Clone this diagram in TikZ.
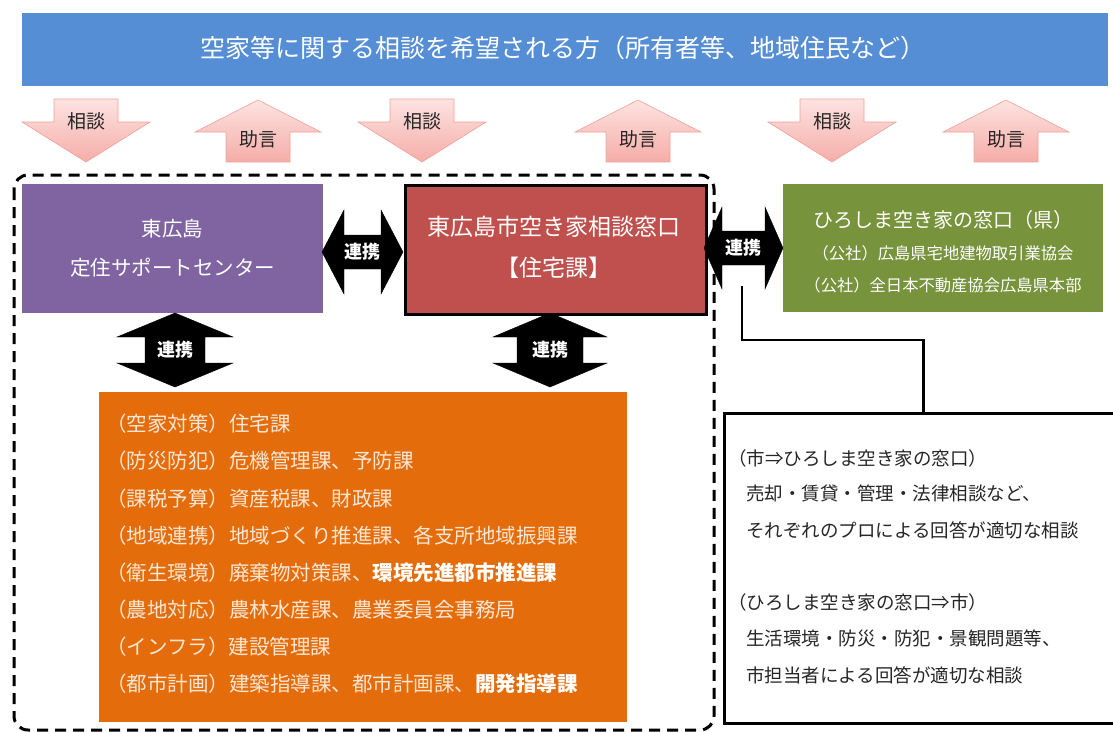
\documentclass[tikz,border=0pt]{standalone}
\usepackage{fontspec}
\setmainfont{Noto Sans CJK JP}
\usetikzlibrary{calc}
\definecolor{topblue}{HTML}{558ED5}
\definecolor{purp}{HTML}{8064A2}
\definecolor{redbox}{HTML}{C0504D}
\definecolor{grn}{HTML}{77933C}
\definecolor{org}{HTML}{E46C0A}
\definecolor{orgtext}{HTML}{FCE6D4}
\definecolor{pinkA}{HTML}{FDE3E1}
\definecolor{pinkB}{HTML}{F5ADA8}
\definecolor{pinkE}{HTML}{EFA29C}
\definecolor{dtext}{HTML}{262626}
\tikzset{
  pinkarrow/.style={top color=pinkA, bottom color=pinkB, draw=pinkE, line width=0.6pt},
  blackarrow/.style={fill=black, draw=black, line width=0.4pt, line join=miter},
  alabel/.style={inner sep=0pt, text=dtext, font=\fontsize{19}{19}\selectfont},
  llabel/.style={inner sep=0pt, text=white, font=\fontsize{18}{18}\selectfont\bfseries},
  boxnode/.style={inner sep=0pt, anchor=north west},
  wtext/.style={inner sep=0pt, text=white},
  otext/.style={inner sep=0pt, anchor=west, text=orgtext, font=\fontsize{20.5}{20.5}\selectfont},
  ptext/.style={inner sep=0pt, anchor=west, text=dtext, font=\fontsize{18.5}{18.5}\selectfont},
  downarrow/.pic={\path[pinkarrow] (-32,0) -- (32,0) -- (32,23) -- (64,23) -- (0,63) -- (-64,23) -- (-32,23) -- cycle;},
  uparrow/.pic={\path[pinkarrow] (0,0) -- (63,32) -- (32,32) -- (32,62) -- (-32,62) -- (-32,32) -- (-63,32) -- cycle;}
}
\begin{document}
\begin{tikzpicture}[x=1pt,y=-1pt]
\clip (0,0) rectangle (1113,731);
\fill[white] (0,0) rectangle (1113,731);

% title bar
\node[boxnode, fill=topblue, minimum width=1086pt, minimum height=73pt] (title) at (22,13) {};
\node[wtext, font=\fontsize{25}{25}\selectfont] (titletext) at (563,48) {空家等に関する相談を希望される方（所有者等、地域住民など）};

% pink arrows
\pic at (86,99) {downarrow};
\node[alabel] (s1) at (86,121) {相談};
\pic at (258,100) {uparrow};
\node[alabel] (j1) at (258,139) {助言};
\pic at (422,99) {downarrow};
\node[alabel] (s2) at (422,121) {相談};
\pic at (638,100) {uparrow};
\node[alabel] (j2) at (638,139) {助言};
\pic at (832,99) {downarrow};
\node[alabel] (s3) at (832,121) {相談};
\pic at (1006,100) {uparrow};
\node[alabel] (j3) at (1006,139) {助言};

% dashed frame
\draw[line width=3pt, dash pattern=on 11pt off 7pt, rounded corners=14pt] (14,175) rectangle (714,730);

% boxes
\node[boxnode, fill=purp, minimum width=301pt, minimum height=129pt] (center) at (22,184) {};
\node[wtext, font=\fontsize{20.5}{20.5}\selectfont] (c1) at (172.5,229) {東広島};
\node[wtext, font=\fontsize{20.5}{20.5}\selectfont] (c2) at (172.5,268) {定住サポートセンター};

\node[boxnode, fill=redbox, draw=black, line width=2.6pt, minimum width=301pt, minimum height=129pt] (city) at (404,184) {};
\node[wtext, font=\fontsize{23}{23}\selectfont] (r1) at (554,227) {東広島市空き家相談窓口};
\node[wtext, font=\fontsize{23}{23}\selectfont] (r2) at (554,268) {【住宅課】};

\node[boxnode, fill=grn, minimum width=320pt, minimum height=128pt] (pref) at (783,184) {};
\node[wtext, font=\fontsize{20}{20}\selectfont] (g1) at (943,220) {ひろしま空き家の窓口（県）};
\node[wtext, font=\fontsize{16.3}{16.3}\selectfont] (g2) at (943,253) {（公社）広島県宅地建物取引業協会};
\node[wtext, font=\fontsize{16.3}{16.3}\selectfont] (g3) at (943,285) {（公社）全日本不動産協会広島県本部};

\node[boxnode, fill=org, minimum width=528pt, minimum height=330pt] (depts) at (99,392) {};
\node[otext] (o1) at (106,424) {（空家対策）住宅課};
\node[otext] (o2) at (106,461.1) {（防災防犯）危機管理課、予防課};
\node[otext] (o3) at (106,498.3) {（課税予算）資産税課、財政課};
\node[otext] (o4) at (106,535.4) {（地域連携）地域づくり推進課、各支所地域振興課};
\node[otext] (o5) at (106,572.6) {（衛生環境）廃棄物対策課、\textcolor{white}{\bfseries 環境先進都市推進課}};
\node[otext] (o6) at (106,609.7) {（農地対応）農林水産課、農業委員会事務局};
\node[otext] (o7) at (106,646.9) {（インフラ）建設管理課};
\node[otext] (o8) at (106,684) {（都市計画）建築指導課、都市計画課、\textcolor{white}{\bfseries 開発指導課}};

\node[boxnode, fill=white, draw=black, line width=2.6pt, minimum width=398pt, minimum height=310pt] (note) at (723,412) {};
\node[ptext] (n1) at (728,458) {（市⇒ひろしま空き家の窓口）};
\node[ptext] (n2) at (746,493) {売却・賃貸・管理・法律相談など、};
\node[ptext] (n3) at (746,530) {それぞれのプロによる回答が適切な相談};
\node[ptext] (n4) at (728,602) {（ひろしま空き家の窓口⇒市）};
\node[ptext] (n5) at (746,638) {生活環境・防災・防犯・景観問題等、};
\node[ptext] (n6) at (746,675) {市担当者による回答が適切な相談};

% black double arrows (連携)
\path[blackarrow] (322,252) -- (344,210) -- (344,235) -- (381,235) -- (381,210) -- (403,252) -- (381,294) -- (381,269) -- (344,269) -- (344,294) -- cycle;
\node[llabel] (l1) at (362.5,252) {連携};
\path[blackarrow] (704,248) -- (722,207) -- (722,231) -- (765,231) -- (765,207) -- (783,248) -- (765,289) -- (765,265) -- (722,265) -- (722,289) -- cycle;
\node[llabel] (l2) at (743.5,248) {連携};
\path[blackarrow] (175,313) -- (233,337) -- (205,337) -- (205,363) -- (233,363) -- (175,387) -- (117,363) -- (145,363) -- (145,337) -- (117,337) -- cycle;
\node[llabel] (l3) at (175,350) {連携};
\path[blackarrow] (550,313) -- (607,337) -- (583,337) -- (583,363) -- (607,363) -- (550,387) -- (493,363) -- (517,363) -- (517,337) -- (493,337) -- cycle;
\node[llabel] (l4) at (550,350) {連携};

% elbow connector to the note box
\coordinate (l2b) at (742,286);
\coordinate (elb) at (742,340);
\draw[line width=2.6pt] (l2b) -- (elb) -| (note.north);
\end{tikzpicture}
\end{document}
